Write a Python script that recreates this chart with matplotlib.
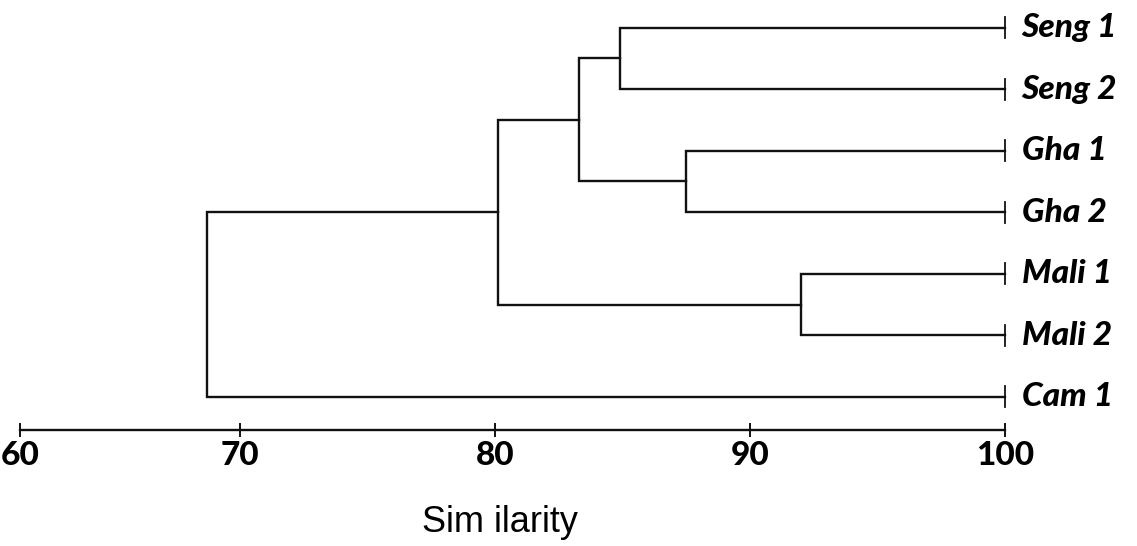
import matplotlib
matplotlib.use("Agg")
import matplotlib.pyplot as plt
import numpy as np

# leaves from top to bottom
leaves = ["Seng 1", "Seng 2", "Gha 1", "Gha 2", "Mali 1", "Mali 2", "Cam 1"]
# merges, scipy style: node ids 0..6 are leaves, then 7,8,... in merge order
merge_a = [0, 2, 4, 7, 9, 11]
merge_b = [1, 3, 5, 8, 10, 6]
merge_sim = [84.9, 87.5, 92.0, 83.3, 80.1, 68.5]
ticks = [60, 70, 80, 90, 100]

# the original axis squeezes the 60-70 stretch
K = 0.863
def fwd(v):
    v = np.asarray(v, dtype=float)
    return np.where(v < 70, 70 - (70 - v) * K, v)
def inv(v):
    v = np.asarray(v, dtype=float)
    return np.where(v < 70, 70 - (70 - v) / K, v)

W, H = 1137, 546
fig = plt.figure(figsize=(W / 100, H / 100), dpi=100)
ax = fig.add_axes([20 / W, 116 / H, 985 / W, 430 / H])
ax.set_xscale("function", functions=(fwd, inv))
ax.set_xlim(60, 100)
ax.set_ylim(6.54, -0.45)

lw = 1.7
col = "#111111"

# node positions: x = similarity, y = row
nx = {i: 100.0 for i in range(len(leaves))}
ny = {i: float(i) for i in range(len(leaves))}
for k, (a, b, s) in enumerate(zip(merge_a, merge_b, merge_sim)):
    node = len(leaves) + k
    ax.plot([nx[a], s, s, nx[b]], [ny[a], ny[a], ny[b], ny[b]],
            color=col, lw=lw, solid_joinstyle="miter", clip_on=False)
    nx[node] = s
    ny[node] = (ny[a] + ny[b]) / 2

for i, name in enumerate(leaves):
    ax.plot([100, 100], [i - 0.17, i + 0.17], color=col, lw=1.3, clip_on=False)
    ax.annotate(name, (100, i), xytext=(12, 0), textcoords="offset points",
                ha="left", va="center", fontsize=24, fontweight="black",
                fontstyle="italic", family="Lato", color="black")

for s in ["top", "right", "left"]:
    ax.spines[s].set_visible(False)
ax.spines["bottom"].set_linewidth(1.7)
ax.spines["bottom"].set_color(col)
ax.set_yticks([])
ax.set_xticks(ticks)
ax.set_xticklabels([str(t) for t in ticks])
ax.xaxis.set_minor_locator(matplotlib.ticker.NullLocator())
ax.tick_params(axis="x", direction="inout", length=10, width=1.4, pad=3,
               colors=col, labelcolor="black")
for lab in ax.get_xticklabels():
    lab.set_fontsize(24)
    lab.set_fontweight("black")
    lab.set_family("Lato")

fig.text(500 / W, 1 - 522 / H, "Sim ilarity", ha="center", va="center",
         fontsize=26, family="Liberation Sans", color="black")

fig.savefig("out.png", dpi=100, facecolor="white")
